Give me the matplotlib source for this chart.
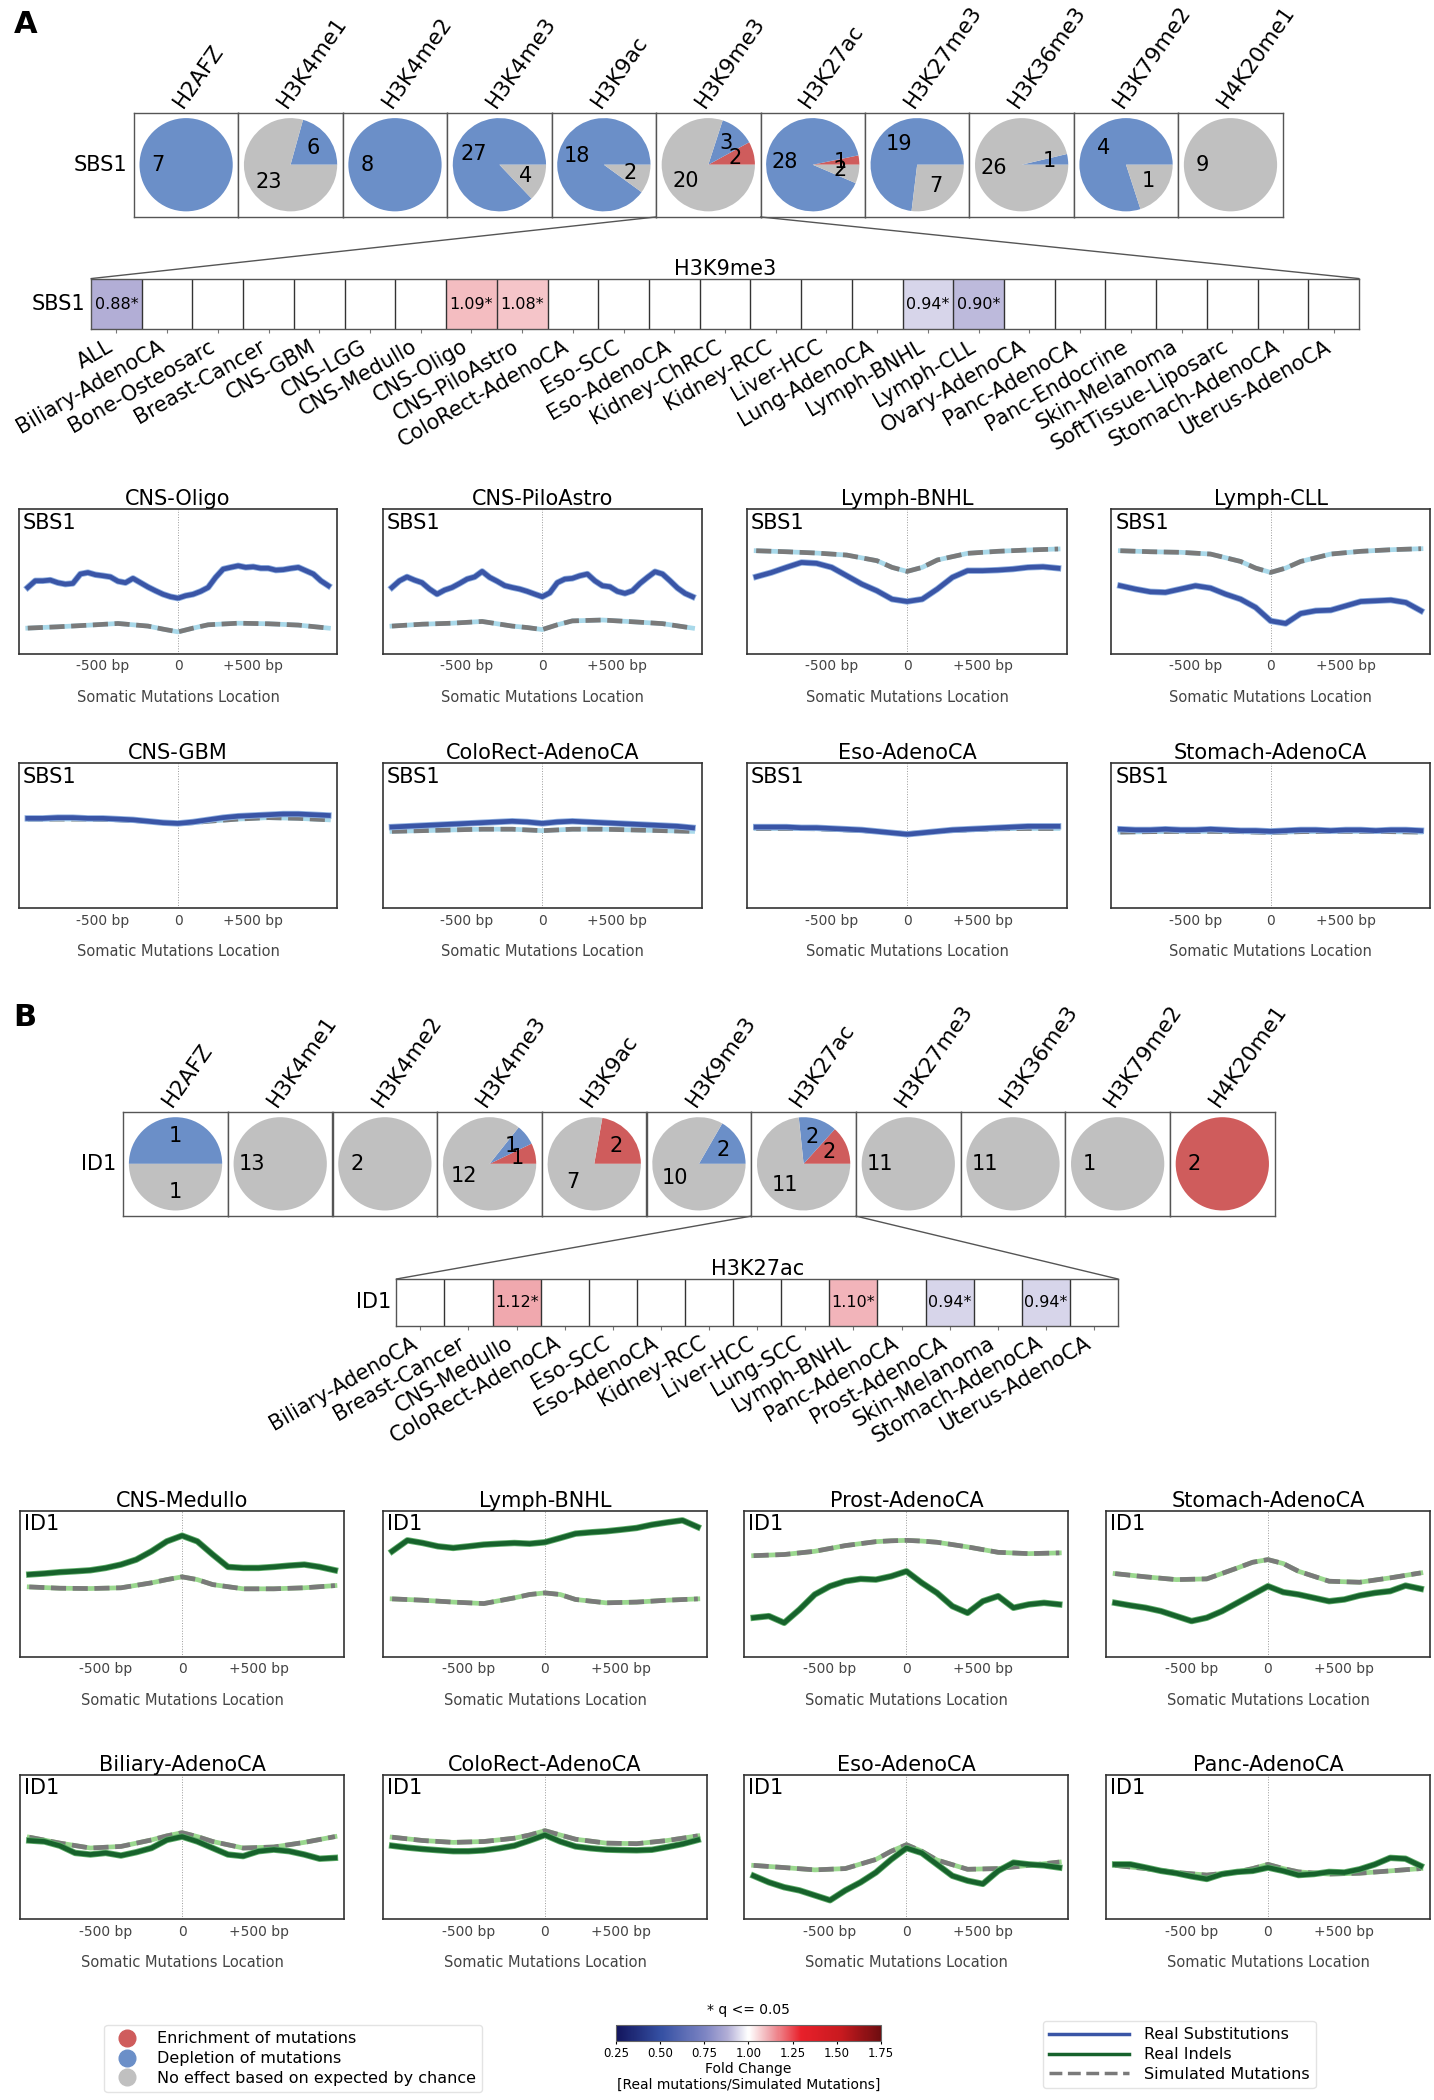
import numpy as np
import matplotlib
matplotlib.use('Agg')
import matplotlib.pyplot as plt
from matplotlib.colors import LinearSegmentedColormap, Normalize
from matplotlib.patches import ConnectionPatch
from matplotlib.lines import Line2D
from matplotlib.cm import ScalarMappable

plt.rcParams['font.family'] = ['DejaVu Sans']

# ---------------- data ----------------
HISTONES = ['H2AFZ', 'H3K4me1', 'H3K4me2', 'H3K4me3', 'H3K9ac', 'H3K9me3',
            'H3K27ac', 'H3K27me3', 'H3K36me3', 'H3K79me2', 'H4K20me1']

# number of cancer types: enrichment / depletion / no effect
A_ENRICH = [0, 0, 0, 0, 0, 2, 1, 0, 0, 0, 0]
A_DEPLETE = [7, 6, 8, 27, 18, 3, 28, 19, 1, 4, 0]
A_NOEFFECT = [0, 23, 0, 4, 2, 20, 2, 7, 26, 1, 9]

B_ENRICH = [0, 0, 0, 1, 2, 0, 2, 0, 0, 0, 2]
B_DEPLETE = [1, 0, 0, 1, 0, 2, 2, 0, 0, 0, 0]
B_NOEFFECT = [1, 13, 2, 12, 7, 10, 11, 11, 11, 1, 0]

A_CANCERS = ['ALL', 'Biliary-AdenoCA', 'Bone-Osteosarc', 'Breast-Cancer', 'CNS-GBM',
             'CNS-LGG', 'CNS-Medullo', 'CNS-Oligo', 'CNS-PiloAstro', 'ColoRect-AdenoCA',
             'Eso-SCC', 'Eso-AdenoCA', 'Kidney-ChRCC', 'Kidney-RCC', 'Liver-HCC',
             'Lung-AdenoCA', 'Lymph-BNHL', 'Lymph-CLL', 'Ovary-AdenoCA', 'Panc-AdenoCA',
             'Panc-Endocrine', 'Skin-Melanoma', 'SoftTissue-Liposarc', 'Stomach-AdenoCA',
             'Uterus-AdenoCA']
nan = np.nan
A_FOLD = [0.88, nan, nan, nan, nan, nan, nan, 1.09, 1.08, nan, nan, nan, nan, nan, nan,
          nan, 0.94, 0.90, nan, nan, nan, nan, nan, nan, nan]

B_CANCERS = ['Biliary-AdenoCA', 'Breast-Cancer', 'CNS-Medullo', 'ColoRect-AdenoCA',
             'Eso-SCC', 'Eso-AdenoCA', 'Kidney-RCC', 'Liver-HCC', 'Lung-SCC',
             'Lymph-BNHL', 'Panc-AdenoCA', 'Prost-AdenoCA', 'Skin-Melanoma',
             'Stomach-AdenoCA', 'Uterus-AdenoCA']
B_FOLD = [nan, nan, 1.12, nan, nan, nan, nan, nan, nan, 1.10, nan, 0.94, nan, 0.94, nan]

# positions relative to the feature centre (bp)
BP_50 = list(range(-1000, 1001, 50))
BP_100 = list(range(-1000, 1001, 100))
BP_SIM = [-1000, -800, -600, -400, -200, -100, 0, 100, 200, 400, 600, 800, 1000]

# average mutation density (arbitrary units) -- panel A, SBS1
A_OLIGO_REAL = [.457, .503, .503, .508, .49, .48, .485, .55, .56, .545, .538, .53, .50, .49,
                .52, .49, .46, .434, .41, .393, .383, .40, .41, .43, .457, .527, .584, .596,
                .607, .596, .60, .59, .59, .577, .58, .589, .596, .573, .55, .503, .469]
A_OLIGO_SIM = [.176, .185, .196, .208, .19, .169, .15, .176, .199, .21, .206, .197, .176]
A_PILO_REAL = [.457, .503, .53, .508, .49, .446, .411, .439, .457, .485, .515, .53, .568, .527,
               .50, .47, .457, .446, .43, .411, .393, .42, .49, .515, .52, .538, .55, .503,
               .469, .462, .43, .416, .434, .485, .527, .566, .55, .503, .453, .416, .393]
A_PILO_SIM = [.19, .203, .21, .222, .19, .18, .166, .199, .226, .232, .22, .207, .176]
A_BNHL_REAL = [.531, .56, .596, .63, .624, .596, .538, .48, .434, .376, .36, .376, .446, .527,
               .573, .573, .577, .584, .596, .60, .59]
A_BNHL_SIM = [.711, .704, .695, .681, .642, .596, .568, .596, .647, .693, .707, .716, .723]
A_CLL_REAL = [.469, .446, .427, .423, .446, .469, .453, .411, .376, .319, .226, .208, .277,
              .296, .30, .33, .36, .365, .37, .353, .296]
A_CLL_SIM = [.711, .704, .70, .688, .637, .591, .561, .591, .637, .688, .707, .718, .725]
A_GBM_REAL = [.62, .62, .625, .625, .62, .62, .615, .61, .60, .59, .585, .595, .61, .625, .635,
              .64, .645, .65, .65, .645, .64]
A_GBM_SIM = [.615, .615, .615, .61, .60, .59, .585, .59, .60, .615, .625, .62, .61]
A_COLO_REAL = [.56, .565, .57, .575, .58, .585, .59, .595, .60, .595, .585, .595, .60, .595,
               .59, .585, .58, .575, .57, .565, .555]
A_COLO_SIM = [.53, .535, .54, .545, .545, .54, .535, .54, .545, .545, .54, .535, .53]
A_ESO_REAL = [.56, .56, .56, .555, .555, .55, .545, .54, .53, .52, .51, .52, .53, .54, .545,
              .55, .555, .56, .565, .565, .565]
A_ESO_SIM = [.55, .55, .548, .54, .53, .52, .515, .52, .53, .54, .548, .55, .55]
A_STOM_REAL = [.545, .54, .54, .545, .54, .54, .545, .54, .535, .535, .53, .535, .54, .54,
               .535, .54, .54, .535, .54, .54, .535]
A_STOM_SIM = [.525, .528, .53, .53, .528, .525, .523, .525, .528, .53, .53, .528, .525]

# panel B, ID1
B_MEDU_REAL = [.563, .57, .579, .585, .592, .608, .631, .665, .722, .79, .829, .79, .70, .615,
               .608, .608, .615, .624, .631, .615, .592]
B_MEDU_SIM = [.478, .469, .467, .472, .506, .528, .547, .528, .494, .465, .465, .472, .487]
B_BNHL_REAL = [.722, .797, .779, .756, .745, .756, .768, .774, .779, .774, .784, .813, .843,
               .852, .859, .87, .882, .904, .92, .934, .888]
B_BNHL_SIM = [.396, .387, .374, .364, .403, .426, .437, .426, .392, .369, .374, .387, .396]
B_PROST_REAL = [.267, .278, .232, .323, .426, .483, .517, .533, .528, .551, .585, .506, .437,
                .346, .30, .38, .415, .335, .358, .369, .358]
B_PROST_SIM = [.692, .70, .722, .761, .788, .794, .797, .792, .784, .752, .715, .706, .711]
B_STOM_REAL = [.369, .351, .335, .312, .278, .244, .267, .312, .369, .426, .483, .442, .426,
               .403, .38, .392, .419, .437, .449, .487, .465]
B_STOM_SIM = [.569, .547, .528, .533, .608, .647, .665, .638, .585, .517, .51, .54, .574]
B_BIL_REAL = [.544, .537, .508, .458, .447, .458, .44, .463, .492, .548, .571, .537, .492, .447,
              .436, .47, .481, .47, .447, .418, .424]
B_BIL_SIM = [.567, .526, .492, .503, .548, .576, .598, .571, .537, .492, .499, .531, .571]
B_COLO_REAL = [.508, .495, .485, .477, .47, .47, .476, .49, .508, .544, .582, .537, .503, .49,
               .481, .478, .476, .48, .499, .52, .548]
B_COLO_SIM = [.567, .544, .531, .537, .56, .582, .612, .582, .553, .526, .522, .544, .576]
B_ESO_REAL = [.30, .255, .221, .199, .165, .131, .199, .255, .323, .413, .492, .458, .379, .30,
              .266, .244, .334, .391, .379, .372, .357]
B_ESO_SIM = [.372, .357, .341, .35, .413, .47, .515, .47, .409, .345, .35, .372, .395]
B_PANC_REAL = [.379, .379, .357, .334, .318, .296, .278, .312, .327, .334, .357, .334, .305,
               .312, .327, .323, .345, .379, .424, .418, .368]
B_PANC_SIM = [.372, .35, .323, .305, .327, .35, .379, .35, .327, .312, .318, .334, .35]

CB_TICKS = [0.25, 0.50, 0.75, 1.00, 1.25, 1.50, 1.75]

# ---------------- style ----------------
RED = '#cf5c5c'
BLUE = '#6b8fc8'
GRAY = '#c0c0c0'
SUB_COLOR = '#3a55a6'
SUB_EDGE = '#8fb0e0'
IND_COLOR = '#17622c'
IND_EDGE = '#5fae6a'
SIM_COLOR = '#7a7a7a'
SUB_UNDER = '#a9d9ea'
IND_UNDER = '#9ad88e'

CMAP = LinearSegmentedColormap.from_list('fc', [
    (0.0, '#12145c'), (0.17, '#3550a3'), (0.34, '#7f86c4'), (0.42, '#b2aed6'),
    (0.5, '#ffffff'), (0.58, '#f0a8ae'), (0.7, '#e8202a'), (0.85, '#c81a1f'),
    (1.0, '#6e0d10')])
NORM = Normalize(0.25, 1.75)

W, H = 1071.0, 1568.0


def R(x0, y0, x1, y1):
    return [x0 / W, 1 - y1 / H, (x1 - x0) / W, (y1 - y0) / H]


fig = plt.figure(figsize=(14.34, 21.0), dpi=100)


def pie_row(x0, x1, y0, y1, row, enr, dep, noe):
    n = len(HISTONES)
    w = (x1 - x0) / n
    axes = []
    for i, h in enumerate(HISTONES):
        ax = fig.add_axes(R(x0 + i * w, y0, x0 + (i + 1) * w, y1))
        vals, cols = [], []
        for v, c in zip([enr[i], dep[i], noe[i]], [RED, BLUE, GRAY]):
            if v > 0:
                vals.append(v)
                cols.append(c)
        total = sum(vals)
        ax.pie(vals, colors=cols, startangle=0, counterclock=True, radius=1.0,
               autopct=lambda p, t=total: f'{int(round(p * t / 100))}',
               pctdistance=0.6, textprops=dict(fontsize=15, color='black'))
        ax.set_xlim(-1.12, 1.12)
        ax.set_ylim(-1.12, 1.12)
        ax.set_frame_on(True)
        for s in ax.spines.values():
            s.set_color('#555555')
            s.set_linewidth(1.0)
        ax.set_xticks([])
        ax.set_yticks([])
        ax.text(0.42, 1.07, h, rotation=55, rotation_mode='anchor', ha='left',
                va='center', transform=ax.transAxes, fontsize=15.5)
        if i == 0:
            ax.set_ylabel(row, rotation=0, ha='right', va='center', fontsize=15, labelpad=5)
        axes.append(ax)
    return axes


def heat_row(rect, title, row, cats, vals):
    ax = fig.add_axes(rect)
    n = len(cats)
    data = np.ma.masked_invalid(np.array([vals], dtype=float))
    ax.pcolormesh(np.arange(n + 1), [0, 1], data, cmap=CMAP, norm=NORM)
    ax.set_xlim(0, n)
    ax.set_ylim(0, 1)
    ax.vlines(np.arange(1, n), 0, 1, color='#333333', lw=1.0)
    for i, v in enumerate(vals):
        if not np.isnan(v):
            ax.text(i + 0.5, 0.5, f'{v:.2f}*', ha='center', va='center', fontsize=11.5)
    ax.set_xticks(np.arange(n) + 0.5)
    ax.set_xticklabels(cats, rotation=30, ha='right', fontsize=15)
    ax.tick_params(axis='x', length=3, color='#777777', pad=2)
    ax.set_yticks([])
    ax.set_ylabel(row, rotation=0, ha='right', va='center', fontsize=15, labelpad=4)
    ax.set_title(title, fontsize=15, pad=2)
    for s in ax.spines.values():
        s.set_color('#555555')
        s.set_linewidth(1.0)
    return ax


def line_panel(rect, title, sig, x_real, real, sim, real_color, edge_color, under_color):
    ax = fig.add_axes(rect)
    ax.axvline(0, color='#9a9a9a', lw=0.7, ls=':', zorder=1)
    ax.plot(BP_SIM, sim, color=under_color, lw=3.4, zorder=2)
    ax.plot(BP_SIM, sim, color=SIM_COLOR, lw=3.4, ls=(0, (3.2, 1.4)), zorder=3)
    ax.plot(x_real, real, color=edge_color, lw=4.6, zorder=4)
    ax.plot(x_real, real, color=real_color, lw=3.4, zorder=5)
    ax.set_xlim(-1060, 1060)
    ax.set_ylim(0, 1)
    ax.set_yticks([])
    ax.set_xticks([-500, 0, 500])
    ax.set_xticklabels(['-500 bp', '0', '+500 bp'])
    ax.tick_params(axis='x', length=0, pad=4, labelsize=10, labelcolor='#444444')
    ax.set_xlabel('Somatic Mutations Location', fontsize=10.5, color='#444444', labelpad=12)
    ax.set_title(title, fontsize=15, pad=2)
    ax.text(0.012, 0.975, sig, transform=ax.transAxes, fontsize=15, va='top', ha='left')
    for s in ax.spines.values():
        s.set_color('#333333')
        s.set_linewidth(1.2)
    return ax


# ---------------- panel A ----------------
fig.text(10 / W, 1 - 18 / H, 'A', fontsize=22, fontweight='bold', va='center', ha='left')
pies_a = pie_row(100, 958, 84, 162, 'SBS1', A_ENRICH, A_DEPLETE, A_NOEFFECT)
heat_a = heat_row(R(68, 208, 1015, 246), 'H3K9me3', 'SBS1', A_CANCERS, A_FOLD)
for (xa, xb) in [((0, 0), (0, 1)), ((1, 0), (1, 1))]:
    con = ConnectionPatch(xyA=xa, coordsA=pies_a[5].transAxes, xyB=xb,
                          coordsB=heat_a.transAxes, color='#555555', lw=1.0)
    fig.add_artist(con)

cols_a = [(14, 252), (286, 524), (558, 797), (830, 1068)]
row1_a = [('CNS-Oligo', BP_50, A_OLIGO_REAL, A_OLIGO_SIM),
          ('CNS-PiloAstro', BP_50, A_PILO_REAL, A_PILO_SIM),
          ('Lymph-BNHL', BP_100, A_BNHL_REAL, A_BNHL_SIM),
          ('Lymph-CLL', BP_100, A_CLL_REAL, A_CLL_SIM)]
row2_a = [('CNS-GBM', BP_100, A_GBM_REAL, A_GBM_SIM),
          ('ColoRect-AdenoCA', BP_100, A_COLO_REAL, A_COLO_SIM),
          ('Eso-AdenoCA', BP_100, A_ESO_REAL, A_ESO_SIM),
          ('Stomach-AdenoCA', BP_100, A_STOM_REAL, A_STOM_SIM)]
for (x0, x1), (t, xr, r, s) in zip(cols_a, row1_a):
    line_panel(R(x0, 380, x1, 488), t, 'SBS1', xr, r, s, SUB_COLOR, SUB_EDGE, SUB_UNDER)
for (x0, x1), (t, xr, r, s) in zip(cols_a, row2_a):
    line_panel(R(x0, 570, x1, 678), t, 'SBS1', xr, r, s, SUB_COLOR, SUB_EDGE, SUB_UNDER)

# ---------------- panel B ----------------
fig.text(10 / W, 1 - 760 / H, 'B', fontsize=22, fontweight='bold', va='center', ha='left')
pies_b = pie_row(92, 952, 830, 908, 'ID1', B_ENRICH, B_DEPLETE, B_NOEFFECT)
heat_b = heat_row(R(296, 955, 835, 990), 'H3K27ac', 'ID1', B_CANCERS, B_FOLD)
for (xa, xb) in [((0, 0), (0, 1)), ((1, 0), (1, 1))]:
    con = ConnectionPatch(xyA=xa, coordsA=pies_b[6].transAxes, xyB=xb,
                          coordsB=heat_b.transAxes, color='#555555', lw=1.0)
    fig.add_artist(con)

cols_b = [(15, 257), (286, 528), (556, 798), (826, 1068)]
row1_b = [('CNS-Medullo', B_MEDU_REAL, B_MEDU_SIM),
          ('Lymph-BNHL', B_BNHL_REAL, B_BNHL_SIM),
          ('Prost-AdenoCA', B_PROST_REAL, B_PROST_SIM),
          ('Stomach-AdenoCA', B_STOM_REAL, B_STOM_SIM)]
row2_b = [('Biliary-AdenoCA', B_BIL_REAL, B_BIL_SIM),
          ('ColoRect-AdenoCA', B_COLO_REAL, B_COLO_SIM),
          ('Eso-AdenoCA', B_ESO_REAL, B_ESO_SIM),
          ('Panc-AdenoCA', B_PANC_REAL, B_PANC_SIM)]
for (x0, x1), (t, r, s) in zip(cols_b, row1_b):
    line_panel(R(x0, 1128, x1, 1237), t, 'ID1', BP_100, r, s, IND_COLOR, IND_EDGE, IND_UNDER)
for (x0, x1), (t, r, s) in zip(cols_b, row2_b):
    line_panel(R(x0, 1325, x1, 1433), t, 'ID1', BP_100, r, s, IND_COLOR, IND_EDGE, IND_UNDER)

# ---------------- legends ----------------
pie_handles = [Line2D([], [], marker='o', ls='', markersize=12, markerfacecolor=c,
                      markeredgecolor=c, label=l)
               for c, l in [(RED, 'Enrichment of mutations'),
                            (BLUE, 'Depletion of mutations'),
                            (GRAY, 'No effect based on expected by chance')]]
fig.legend(handles=pie_handles, loc='upper left', bbox_to_anchor=(72 / W, 1 - 1506 / H),
           fontsize=11.5, frameon=True, handletextpad=0.9, labelspacing=0.3,
           borderpad=0.4, edgecolor='#dddddd')

line_handles = [Line2D([], [], color=SUB_COLOR, lw=2.5, label='Real Substitutions'),
                Line2D([], [], color=IND_COLOR, lw=2.5, label='Real Indels'),
                Line2D([], [], color=SIM_COLOR, lw=2.5, ls='--', label='Simulated Mutations')]
fig.legend(handles=line_handles, loc='upper left', bbox_to_anchor=(773 / W, 1 - 1503 / H),
           fontsize=11.5, frameon=True, handlelength=5.0, handletextpad=0.9,
           labelspacing=0.3, borderpad=0.4, edgecolor='#dddddd')

cax = fig.add_axes(R(460, 1512, 658, 1524))
cb = fig.colorbar(ScalarMappable(norm=NORM, cmap=CMAP), cax=cax, orientation='horizontal',
                  ticks=CB_TICKS)
cb.ax.set_xticklabels([f'{t:.2f}' for t in CB_TICKS])
cb.ax.tick_params(labelsize=8.5, length=2, pad=2)
cb.outline.set_edgecolor('#666666')
cax.set_title('* q <= 0.05', fontsize=10, pad=8)
cax.set_xlabel('Fold Change\n[Real mutations/Simulated Mutations]', fontsize=10, labelpad=2,
               linespacing=1.1)

fig.savefig('out.png', dpi=100)
